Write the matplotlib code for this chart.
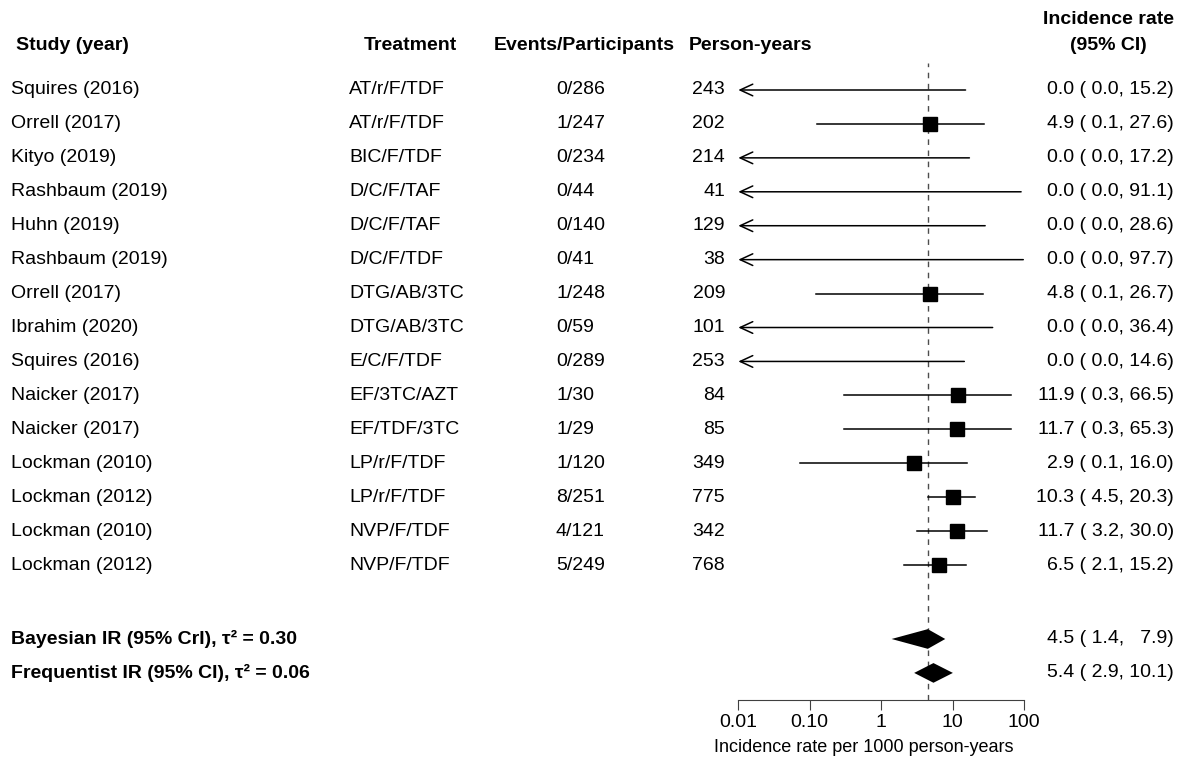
import matplotlib
matplotlib.use("Agg")
import matplotlib.pyplot as plt
from matplotlib.transforms import blended_transform_factory

plt.rcParams['font.family'] = ['Liberation Sans', 'DejaVu Sans']
plt.rcParams['font.size'] = 14

# Study-level data
studies = ["Squires (2016)", "Orrell (2017)", "Kityo (2019)", "Rashbaum (2019)",
           "Huhn (2019)", "Rashbaum (2019)", "Orrell (2017)", "Ibrahim (2020)",
           "Squires (2016)", "Naicker (2017)", "Naicker (2017)", "Lockman (2010)",
           "Lockman (2012)", "Lockman (2010)", "Lockman (2012)"]
treatments = ["AT/r/F/TDF", "AT/r/F/TDF", "BIC/F/TDF", "D/C/F/TAF", "D/C/F/TAF",
              "D/C/F/TDF", "DTG/AB/3TC", "DTG/AB/3TC", "E/C/F/TDF", "EF/3TC/AZT",
              "EF/TDF/3TC", "LP/r/F/TDF", "LP/r/F/TDF", "NVP/F/TDF", "NVP/F/TDF"]
events = [0, 1, 0, 0, 0, 0, 1, 0, 0, 1, 1, 1, 8, 4, 5]
participants = [286, 247, 234, 44, 140, 41, 248, 59, 289, 30, 29, 120, 251, 121, 249]
person_years = [243, 202, 214, 41, 129, 38, 209, 101, 253, 84, 85, 349, 775, 342, 768]
ir = [0.0, 4.9, 0.0, 0.0, 0.0, 0.0, 4.8, 0.0, 0.0, 11.9, 11.7, 2.9, 10.3, 11.7, 6.5]
ci_low = [0.0, 0.125, 0.0, 0.0, 0.0, 0.0, 0.121, 0.0, 0.0, 0.30, 0.30, 0.072, 4.46, 3.2, 2.1]
ci_high = [15.2, 27.6, 17.2, 91.1, 28.6, 97.7, 26.7, 36.4, 14.6, 66.5, 65.3, 16.0, 20.3, 30.0, 15.2]

# Pooled estimates
summary_labels = ["Bayesian IR (95% CrI), τ² = 0.30", "Frequentist IR (95% CI), τ² = 0.06"]
summary_est = [4.5, 5.4]
summary_low = [1.4, 2.9]
summary_high = [7.9, 10.1]

xticks = [0.01, 0.1, 1, 10, 100]
xticklabels = ["0.01", "0.10", "1", "10", "100"]

W, H = 1185, 760
fig = plt.figure(figsize=(W / 100, H / 100), dpi=100)

# forest panel placed in pixel terms
x0, x1 = 738.3, 1024
y_top, y_bot = 63, 700
ax = fig.add_axes([x0 / W, 1 - y_bot / H, (x1 - x0) / W, (y_bot - y_top) / H])
ax.set_xscale('log')
ax.set_xlim(0.01, 100)
row_px, row0_px = 33.93, 90
ax.set_ylim((y_bot - row0_px) / row_px, (y_top - row0_px) / row_px)

rows = list(range(len(studies)))
summary_rows = [16.18, 17.18]

ax.axvline(summary_est[0], color='0.3', lw=1, ls=(0, (4, 4)), zorder=1)

for y, est, lo, hi in zip(rows, ir, ci_low, ci_high):
    if lo == 0:
        ax.annotate('', xy=(0.01, y), xytext=(hi, y),
                    arrowprops=dict(arrowstyle='->,head_length=0.65,head_width=0.3',
                                    lw=1.1, color='black', shrinkA=0, shrinkB=0))
    else:
        ax.plot([lo, hi], [y, y], color='black', lw=1.1, zorder=2)
    if est > 0:
        ax.plot(est, y, marker='s', ms=10.6, color='black', zorder=3)

h = 0.29
for y, est, lo, hi in zip(summary_rows, summary_est, summary_low, summary_high):
    ax.fill([lo, est, hi, est], [y, y - h, y, y + h], color='black', zorder=3, lw=0)

for s in ['top', 'right', 'left']:
    ax.spines[s].set_visible(False)
ax.spines['bottom'].set_color('0.25')
ax.set_yticks([])
ax.set_xticks(xticks)
ax.set_xticklabels(xticklabels)
ax.minorticks_off()
ax.tick_params(axis='x', length=7, color='0.25', labelsize=14, pad=3)
ax.patch.set_alpha(0)

tr = blended_transform_factory(fig.transFigure, ax.transData)

def fx(px):
    return px / W

fig.text(fx(863.5), 1 - 747 / H, "Incidence rate per 1000 person-years",
         fontsize=13, ha='center', va='center')

# headers
hdr_y = -1.3
fig.text(fx(16), hdr_y, "Study (year)", transform=tr, weight='bold', va='center')
fig.text(fx(410.5), hdr_y, "Treatment", transform=tr, weight='bold', va='center', ha='center')
fig.text(fx(584.5), hdr_y, "Events/Participants", transform=tr, weight='bold', va='center', ha='center')
fig.text(fx(689), hdr_y, "Person-years", transform=tr, weight='bold', va='center')
fig.text(fx(1108.5), -2.08, "Incidence rate", transform=tr, weight='bold', va='center', ha='center')
fig.text(fx(1108.5), hdr_y, "(95% CI)", transform=tr, weight='bold', va='center', ha='center')

def ci_text(est, lo, hi):
    hi_s = f"{hi:.1f}" if hi >= 10 else "  " + f"{hi:.1f}"
    return f"{est:.1f} ({lo:4.1f}, {hi_s})"

for i, y in enumerate(rows):
    fig.text(fx(11), y, studies[i], transform=tr, va='center')
    fig.text(fx(349), y, treatments[i], transform=tr, va='center')
    fig.text(fx(556), y, f"{events[i]}/{participants[i]}", transform=tr, va='center')
    fig.text(fx(725), y, str(person_years[i]), transform=tr, va='center', ha='right')
    fig.text(fx(1174), y, ci_text(ir[i], ci_low[i], ci_high[i]), transform=tr,
             va='center', ha='right')

for i, y in enumerate(summary_rows):
    fig.text(fx(11), y, summary_labels[i], transform=tr, va='center', weight='bold')
    fig.text(fx(1174), y, ci_text(summary_est[i], summary_low[i], summary_high[i]),
             transform=tr, va='center', ha='right')

fig.savefig("out.png", dpi=100)
